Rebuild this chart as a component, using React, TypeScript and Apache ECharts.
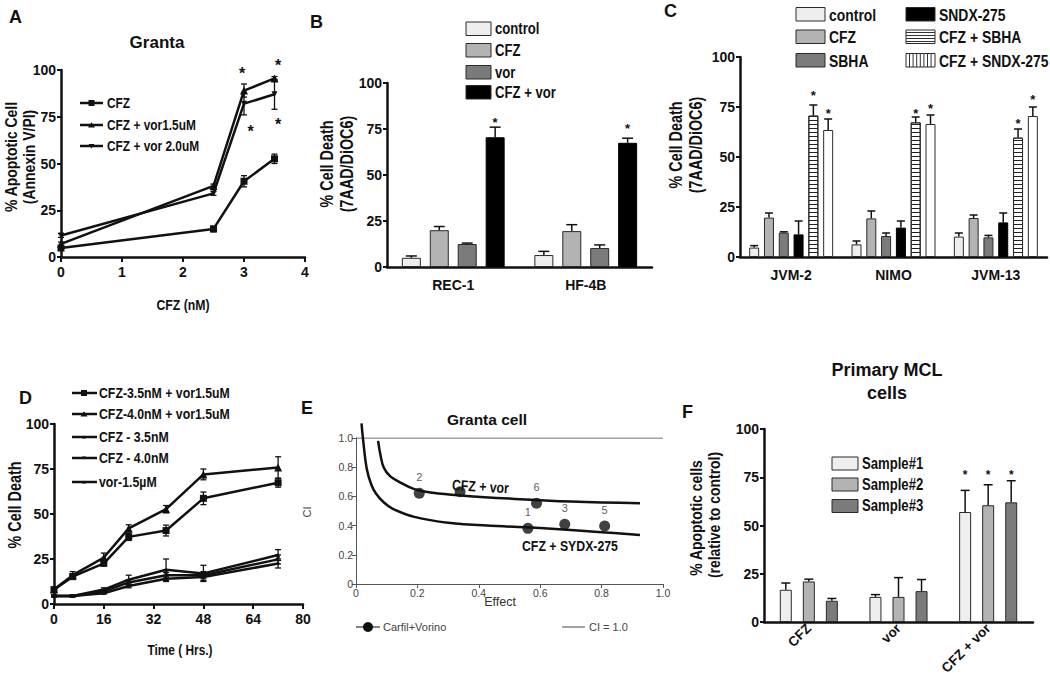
import React, { useEffect, useRef } from "react";
import * as echarts from "echarts";

const SANS = "'Liberation Sans', Arial, Helvetica, sans-serif";
const INK = "#111";
const NX = 0.82; // horizontal squeeze that mimics a narrow face

// ---------- Panel A ----------
const pctTicks = [0, 25, 50, 75, 100];
const aXTicks = [0, 1, 2, 3, 4];
const aDoses = [0, 2.5, 3, 3.5];
const aNames = ["CFZ", "CFZ + vor1.5uM", "CFZ + vor 2.0uM"];
const aCFZ = [4.8, 15, 40.5, 52.5];
const aCFZErr = [1, 1.5, 3, 2.5];
const aVor15 = [7, 38, 89, 95.5];
const aVor15Err = [1, 1, 3.5, 1];
const aVor20 = [11.5, 34, 82, 87];
const aVor20Err = [1, 1, 6, 8];
const aStarX = [2.97, 3.56, 3.11, 3.56];
const aStarY = [99, 103.5, 68, 72];

// ---------- Panel B ----------
const bCats = ["REC-1", "HF-4B"];
const bNames = ["control", "CFZ", "vor", "CFZ + vor"];
const bControl = [5, 6.5];
const bControlErr = [1, 2];
const bCFZ = [20, 19.5];
const bCFZErr = [2, 3.5];
const bVor = [12.5, 10.3];
const bVorErr = [0.5, 1.7];
const bCombo = [70.5, 67.5];
const bComboErr = [5.5, 2.5];
const bComboStar = [79.5, 76.5];

// ---------- Panel C ----------
const cCats = ["JVM-2", "NIMO", "JVM-13"];
const cNames = ["control", "CFZ", "SBHA", "SNDX-275", "CFZ + SBHA", "CFZ + SNDX-275"];
const cControl = [4.7, 6.3, 10.2];
const cControlErr = [1, 1.7, 1.8];
const cCFZ = [19.7, 19.3, 19.5];
const cCFZErr = [2.3, 3.7, 1.5];
const cSBHA = [12.2, 10.5, 9.8];
const cSBHAErr = [0.4, 1.5, 1];
const cSNDX = [11.3, 14.7, 17.3];
const cSNDXErr = [6.7, 3.3, 4.7];
const cCfzSbha = [70.7, 67.3, 59.7];
const cCfzSbhaErr = [5.3, 2.7, 4.3];
const cCfzSndx = [63.5, 66.5, 70.5];
const cCfzSndxErr = [5.5, 4.5, 4.5];
const cCfzSbhaStar = [82, 73, 68];
const cCfzSndxStar = [73, 75.5, 80];

// ---------- Panel D ----------
const dTimes = [0, 6, 16, 24, 36, 48, 72];
const dXTicks = [0, 16, 32, 48, 64, 80];
const dNames = ["CFZ-3.5nM + vor1.5uM", "CFZ-4.0nM + vor1.5uM", "CFZ - 3.5nM", "CFZ - 4.0nM", "vor-1.5\u00b5M"];
const dCfz35Vor = [8, 15.2, 22.6, 37.3, 40.8, 58.7, 67.4];
const dCfz35VorErr = [1, 1.5, 1.5, 2, 3, 3.5, 2.5];
const dCfz40Vor = [8, 16, 25.8, 42, 52.7, 72, 75.8];
const dCfz40VorErr = [1, 2, 2.5, 2, 2, 3, 6];
const dCfz35 = [4.5, 4.5, 8, 13.5, 19, 17, 27.2];
const dCfz35Err = [0.5, 0.5, 1, 2.5, 6, 4.5, 3];
const dCfz40 = [4.5, 4.5, 7, 12, 16, 16, 24.8];
const dCfz40Err = [0.5, 0.5, 1, 1.5, 1.5, 2, 2.5];
const dVor = [4.5, 4.5, 6, 10, 14, 15, 22.5];
const dVorErr = [0.5, 0.5, 0.5, 1, 1.5, 2, 2.5];

// ---------- Panel E ----------
const eTicks = [0, 0.2, 0.4, 0.6, 0.8, 1.0];
const eTickLabels = ["0", "0.2", "0.4", "0.6", "0.8", "1.0"];
const eVorEffect = [0.072, 0.08, 0.09, 0.11, 0.14, 0.19, 0.25, 0.35, 0.5, 0.7, 0.925];
const eVorCI = [0.98, 0.88, 0.8, 0.74, 0.7, 0.65, 0.625, 0.605, 0.585, 0.565, 0.553];
const eSndxEffect = [0.018, 0.023, 0.035, 0.05, 0.065, 0.09, 0.12, 0.19, 0.3, 0.46, 0.6, 0.8, 0.925];
const eSndxCI = [1.1, 0.99, 0.79, 0.68, 0.62, 0.56, 0.515, 0.46, 0.42, 0.397, 0.383, 0.355, 0.336];
const ePointEffect = [0.206, 0.339, 0.588, 0.56, 0.68, 0.81];
const ePointCI = [0.621, 0.632, 0.553, 0.381, 0.409, 0.397];
const ePointLabels = ["2", "", "6", "1", "3", "5"];
const eRefEffect = [0, 1];
const eRefCI = [1, 1];

// ---------- Panel F ----------
const fCats = ["CFZ", "vor", "CFZ + vor"];
const fNames = ["Sample#1", "Sample#2", "Sample#3"];
const fS1 = [16.7, 13, 57];
const fS1Err = [3.5, 1.2, 11.2];
const fS2 = [21, 13, 60.5];
const fS2Err = [1.2, 10, 10.6];
const fS3 = [11, 16, 62];
const fS3Err = [1.2, 6, 11.2];
const fStar = [-1, -1, 77];

// ---------- colours ----------
const LIGHT = "#eeeeee";
const MID = "#b3b3b3";
const DARK = "#7b7b7b";
const BLACK = "#000000";

const axisLineStyle = { color: INK, width: 2.5 };

function valY(grid: number, ticks: number[]) {
  return {
    type: "value", gridIndex: grid, min: ticks[0], max: ticks[ticks.length - 1], interval: ticks[1] - ticks[0],
    axisLine: { show: true, lineStyle: axisLineStyle },
    axisTick: { show: true, length: 4, lineStyle: { color: INK, width: 2 } },
    axisLabel: { color: INK, fontFamily: SANS, fontWeight: "bold", fontSize: 14, margin: 5 },
    splitLine: { show: false },
  };
}
function valX(grid: number, ticks: number[]) {
  return {
    type: "value", gridIndex: grid, min: ticks[0], max: ticks[ticks.length - 1], interval: ticks[1] - ticks[0],
    axisLine: { show: true, onZero: false, lineStyle: axisLineStyle },
    axisTick: { show: true, length: 5, lineStyle: { color: INK, width: 2 } },
    axisLabel: { color: INK, fontFamily: SANS, fontWeight: "bold", fontSize: 14, margin: 8 },
    splitLine: { show: false },
  };
}
function catX(grid: number, cats: string[], extra: any = {}) {
  return {
    type: "category", gridIndex: grid, data: cats,
    axisLine: { show: true, lineStyle: axisLineStyle },
    axisTick: { show: false },
    axisLabel: { color: INK, fontFamily: SANS, fontWeight: "bold", fontSize: 14, margin: 11, interval: 0, ...extra },
    splitLine: { show: false },
  };
}
function eAxis(grid: number) {
  return {
    type: "value", gridIndex: grid, min: eTicks[0], max: eTicks[eTicks.length - 1], interval: eTicks[1] - eTicks[0],
    axisLine: { show: true, onZero: false, lineStyle: { color: "#555", width: 1 } },
    axisTick: { show: true, length: 4, lineStyle: { color: "#555", width: 1 } },
    axisLabel: {
      color: "#444", fontFamily: SANS, fontSize: 10.5, margin: 3,
      formatter: (v: number) => eTickLabels[Math.round(v / (eTicks[1] - eTicks[0]))],
    },
    splitLine: { show: false },
  };
}

const ln = (x1: number, y1: number, x2: number, y2: number, w = 1.5, c = INK) => ({
  type: "line", shape: { x1, y1, x2, y2 }, style: { stroke: c, lineWidth: w },
});
const starText = (x: number, y: number, size = 13) => ({
  type: "text", x, y: y + 2,
  style: { text: "*", fill: INK, fontSize: size, fontWeight: "bold", fontFamily: SANS, align: "center", verticalAlign: "middle" },
});

function barSeries(axis: number, name: string, vals: number[], color: string, bw: number, gap: number, extra: any = {}) {
  return {
    type: "bar", name, xAxisIndex: axis, yAxisIndex: axis, data: vals, barWidth: bw, barGap: `${gap * 100}%`,
    itemStyle: { color, borderColor: "#2a2a2a", borderWidth: 1, ...extra }, z: 2,
  };
}
function barErr(axis: number, vals: number[], errs: number[], stars: number[] | null, i: number, n: number, bw: number, gap: number, cap: number, starSize = 13) {
  return {
    type: "custom", xAxisIndex: axis, yAxisIndex: axis, z: 4, silent: true,
    encode: { x: 0, y: 1 },
    data: vals.map((v, k) => [k, v, errs[k], stars ? stars[k] : -1]),
    renderItem: (_p: any, api: any) => {
      const k = api.value(0), v = api.value(1), e = api.value(2), s = api.value(3);
      const p0 = api.coord([k, v]);
      const p1 = api.coord([k, v + e]);
      const x = p0[0] + (i - (n - 1) / 2) * bw * (1 + gap);
      const kids: any[] = [ln(x, p0[1], x, p1[1]), ln(x - cap / 2, p1[1], x + cap / 2, p1[1])];
      if (s >= 0) {
        const ps = api.coord([k, s]);
        kids.push(starText(x, ps[1], starSize));
      }
      return { type: "group", children: kids };
    },
  };
}
function lineSeries(axis: number, name: string, xs: number[], ys: number[], symbol: string, size: number, rot = 0) {
  return {
    type: "line", name, xAxisIndex: axis, yAxisIndex: axis, data: xs.map((x, k) => [x, ys[k]]),
    symbol, symbolSize: size, symbolRotate: rot, showSymbol: true,
    lineStyle: { color: INK, width: 2.5 }, itemStyle: { color: INK }, z: 3,
  };
}
function lineErr(axis: number, xs: number[], ys: number[], errs: number[], cap = 6) {
  return {
    type: "custom", xAxisIndex: axis, yAxisIndex: axis, z: 4, silent: true,
    encode: { x: 0, y: 1 },
    data: xs.map((x, k) => [x, ys[k], errs[k]]),
    renderItem: (_p: any, api: any) => {
      const x = api.value(0), v = api.value(1), e = api.value(2);
      const hi = api.coord([x, v + e]);
      const lo = api.coord([x, v - e]);
      return {
        type: "group",
        children: [ln(hi[0], hi[1], lo[0], lo[1], 1.3), ln(hi[0] - cap / 2, hi[1], hi[0] + cap / 2, hi[1], 1.3), ln(lo[0] - cap / 2, lo[1], lo[0] + cap / 2, lo[1], 1.3)],
      };
    },
  };
}
function starSeries(axis: number, xs: number[], ys: number[], size: number) {
  return {
    type: "custom", xAxisIndex: axis, yAxisIndex: axis, z: 5, silent: true, clip: false,
    encode: { x: 0, y: 1 },
    data: xs.map((x, k) => [x, ys[k]]),
    renderItem: (_p: any, api: any) => {
      const p = api.coord([api.value(0), api.value(1)]);
      return starText(p[0], p[1], size);
    },
  };
}

// ---------- graphic helpers ----------
const txt = (text: string, x: number, y: number, size: number, o: any = {}) => ({
  type: "text", x, y, rotation: o.rot || 0, scaleX: o.sx ?? NX, silent: true, z: 10,
  style: {
    text, fill: o.color || INK, fontSize: size, fontWeight: o.weight || "bold", fontFamily: SANS,
    align: o.align || "left", verticalAlign: "middle",
  },
});
const box = (x: number, y: number, w: number, h: number, fill: string) => ({
  type: "rect", shape: { x, y, width: w, height: h }, style: { fill, stroke: "#2a2a2a", lineWidth: 1 }, z: 10,
});
const stripesH = (x: number, y: number, w: number, h: number) => {
  const out: any[] = [];
  for (let yy = y + 2.5; yy < y + h - 1; yy += 3) out.push({ ...ln(x, yy, x + w, yy, 1, "#333"), z: 11 });
  return out;
};
const stripesV = (x: number, y: number, w: number, h: number) => {
  const out: any[] = [];
  for (let xx = x + 3.5; xx < x + w - 1; xx += 3.6) out.push({ ...ln(xx, y, xx, y + h, 1, "#333"), z: 11 });
  return out;
};
const tri = (x: number, y: number, s: number, down = false) => ({
  type: "polygon", z: 11,
  shape: { points: down ? [[x - s, y - s * 0.7], [x + s, y - s * 0.7], [x, y + s * 0.8]] : [[x - s, y + s * 0.7], [x + s, y + s * 0.7], [x, y - s * 0.8]] },
  style: { fill: INK },
});
const sq = (x: number, y: number, s: number) => ({ type: "rect", z: 11, shape: { x: x - s / 2, y: y - s / 2, width: s, height: s }, style: { fill: INK } });

function buildGraphic() {
  const g: any[] = [];
  const R = Math.PI / 2;
  // panel letters
  g.push(txt("A", 9, 17, 18, { sx: 1 }));
  g.push(txt("B", 310, 22, 18, { sx: 1 }));
  g.push(txt("C", 664, 11, 18, { sx: 1 }));
  g.push(txt("D", 19, 398, 18, { sx: 1 }));
  g.push(txt("E", 301, 408, 18, { sx: 1 }));
  g.push(txt("F", 682, 412, 18, { sx: 1 }));
  // titles
  g.push(txt("Granta", 157, 42, 17, { sx: 1, align: "center" }));
  g.push(txt("Granta cell", 487, 419, 15.5, { sx: 1, align: "center" }));
  g.push(txt("Primary MCL", 887, 370, 18, { sx: 1, align: "center" }));
  g.push(txt("cells", 887, 393, 18, { sx: 1, align: "center" }));
  // axis titles
  g.push(txt("% Apoptotic Cell", 11, 157, 17, { rot: R, align: "center" }));
  g.push(txt("(Annexin V/PI)", 29, 157, 17, { rot: R, align: "center" }));
  g.push(txt("CFZ (nM)", 183, 305, 15, { align: "center" }));
  g.push(txt("% Cell Death", 327, 164, 17.5, { rot: R, align: "center" }));
  g.push(txt("(7AAD/DiOC6)", 347, 164, 17.5, { rot: R, align: "center" }));
  g.push(txt("% Cell Death", 676, 145, 17.5, { rot: R, align: "center" }));
  g.push(txt("(7AAD/DiOC6)", 696, 145, 17.5, { rot: R, align: "center" }));
  g.push(txt("% Cell Death", 15, 505, 17.5, { rot: R, align: "center" }));
  g.push(txt("Time ( Hrs.)", 180, 650, 14.5, { align: "center" }));
  g.push(txt("% Apoptotic cells", 696, 518, 17, { rot: R, align: "center" }));
  g.push(txt("(relative to control)", 714, 515, 17, { rot: R, align: "center" }));
  g.push(txt("CI", 307, 512, 11, { sx: 1, rot: R, align: "center", weight: "normal", color: "#444" }));
  g.push(txt("Effect", 500, 602, 12.5, { sx: 1, align: "center", weight: "normal", color: "#333" }));

  // legend A
  const aRows = [103, 125, 146];
  aNames.forEach((n, i) => {
    g.push({ ...ln(80, aRows[i], 103, aRows[i], 2.5), z: 10 });
    if (i === 0) g.push(sq(91.5, aRows[i], 6));
    else if (i === 1) g.push(tri(91.5, aRows[i], 3.5));
    else g.push(tri(91.5, aRows[i], 3, true));
    g.push(txt(n, 107, aRows[i], 14.5));
  });

  // legend B
  const bRows = [22, 43.5, 65.5, 85.5];
  const bFills = [LIGHT, MID, DARK, BLACK];
  bNames.forEach((n, i) => {
    g.push(box(466, bRows[i], 25, 13.5, bFills[i]));
    g.push(txt(n, 495, bRows[i] + 7, 16));
  });

  // legend C
  const cRows = [7.5, 30, 53.5];
  const cFills = [LIGHT, MID, DARK, BLACK, "#fff", "#fff"];
  cNames.forEach((n, i) => {
    const col = i < 3 ? 0 : 1;
    const r = cRows[i % 3];
    const bx = col === 0 ? 796 : 906;
    g.push(box(bx, r, 29, 13.5, cFills[i]));
    if (i === 4) g.push(...stripesH(bx, r, 29, 13.5));
    if (i === 5) g.push(...stripesV(bx, r, 29, 13.5));
    g.push(txt(n, bx + 33, r + 7, 17));
  });

  // legend D
  const dRows = [393, 414, 437, 458, 482];
  dNames.forEach((n, i) => {
    g.push({ ...ln(72, dRows[i], 97, dRows[i], 2.5), z: 10 });
    if (i === 0) g.push(sq(84, dRows[i], 6));
    else if (i === 1) g.push(tri(84, dRows[i], 3.5));
    else g.push(tri(84, dRows[i], 2, i === 3));
    g.push(txt(n, 99, dRows[i], 15));
  });

  // legend F
  const fRows = [457, 478, 499.5];
  const fFills = [LIGHT, MID, DARK];
  fNames.forEach((n, i) => {
    g.push(box(832, fRows[i], 26, 13, fFills[i]));
    g.push(txt(n, 862, fRows[i] + 6.5, 16));
  });

  // panel E annotations and legend
  g.push(txt("CFZ + vor", 452, 485, 15, { rot: -0.06 }));
  g.push(txt("CFZ + SYDX-275", 522, 546, 15));
  g.push({ ...ln(356, 627, 380, 627, 1.2, "#333"), z: 10 });
  g.push({ type: "circle", shape: { cx: 368, cy: 627, r: 5 }, style: { fill: INK }, z: 11 });
  g.push(txt("Carfil+Vorino", 383, 627, 11, { sx: 1, weight: "normal", color: "#444" }));
  g.push({ ...ln(562, 627, 585, 627, 1, "#444"), z: 10 });
  g.push(txt("CI = 1.0", 589, 627, 11, { sx: 1, weight: "normal", color: "#444" }));
  return g;
}

function buildOption() {
  const grids = [
    { left: 61, top: 70, width: 244, height: 187 },
    { left: 387, top: 83, width: 265, height: 184 },
    { left: 740, top: 57, width: 307, height: 200 },
    { left: 54, top: 424, width: 249, height: 180 },
    { left: 356, top: 438, width: 307, height: 146 },
    { left: 764, top: 429, width: 269, height: 193 },
  ].map((g) => ({ ...g, containLabel: false, outerBoundsMode: "none" }));

  const BW_B = 19, GAP_B = 0.47;
  const BW_C = 10, GAP_C = 0.48;
  const BW_F = 12, GAP_F = 0.92;
  const hStripe = { symbol: "rect", symbolSize: 1, dashArrayX: [1, 0], dashArrayY: [1, 2.2], color: "#222", rotation: 0 };

  const series: any[] = [
    // A
    lineSeries(0, aNames[0], aDoses, aCFZ, "rect", 7),
    lineSeries(0, aNames[1], aDoses, aVor15, "triangle", 8),
    lineSeries(0, aNames[2], aDoses, aVor20, "triangle", 6, 180),
    lineErr(0, aDoses, aCFZ, aCFZErr),
    lineErr(0, aDoses, aVor15, aVor15Err),
    lineErr(0, aDoses, aVor20, aVor20Err),
    starSeries(0, aStarX, aStarY, 16),
    // B
    barSeries(1, bNames[0], bControl, LIGHT, BW_B, GAP_B),
    barSeries(1, bNames[1], bCFZ, MID, BW_B, GAP_B),
    barSeries(1, bNames[2], bVor, DARK, BW_B, GAP_B),
    barSeries(1, bNames[3], bCombo, BLACK, BW_B, GAP_B, { borderColor: "#000" }),
    barErr(1, bControl, bControlErr, null, 0, 4, BW_B, GAP_B, 11),
    barErr(1, bCFZ, bCFZErr, null, 1, 4, BW_B, GAP_B, 11),
    barErr(1, bVor, bVorErr, null, 2, 4, BW_B, GAP_B, 11),
    barErr(1, bCombo, bComboErr, bComboStar, 3, 4, BW_B, GAP_B, 11),
    // C
    barSeries(2, cNames[0], cControl, LIGHT, BW_C, GAP_C),
    barSeries(2, cNames[1], cCFZ, MID, BW_C, GAP_C),
    barSeries(2, cNames[2], cSBHA, DARK, BW_C, GAP_C),
    barSeries(2, cNames[3], cSNDX, BLACK, BW_C, GAP_C, { borderColor: "#000" }),
    barSeries(2, cNames[4], cCfzSbha, "#ffffff", BW_C, GAP_C, { decal: hStripe }),
    barSeries(2, cNames[5], cCfzSndx, "#ffffff", BW_C, GAP_C),
    barErr(2, cControl, cControlErr, null, 0, 6, BW_C, GAP_C, 8),
    barErr(2, cCFZ, cCFZErr, null, 1, 6, BW_C, GAP_C, 8),
    barErr(2, cSBHA, cSBHAErr, null, 2, 6, BW_C, GAP_C, 8),
    barErr(2, cSNDX, cSNDXErr, null, 3, 6, BW_C, GAP_C, 8),
    barErr(2, cCfzSbha, cCfzSbhaErr, cCfzSbhaStar, 4, 6, BW_C, GAP_C, 8),
    barErr(2, cCfzSndx, cCfzSndxErr, cCfzSndxStar, 5, 6, BW_C, GAP_C, 8),
    // D
    lineSeries(3, dNames[0], dTimes, dCfz35Vor, "rect", 7),
    lineSeries(3, dNames[1], dTimes, dCfz40Vor, "triangle", 8),
    lineSeries(3, dNames[2], dTimes, dCfz35, "triangle", 4),
    lineSeries(3, dNames[3], dTimes, dCfz40, "triangle", 4, 180),
    lineSeries(3, dNames[4], dTimes, dVor, "diamond", 4),
    lineErr(3, dTimes, dCfz35Vor, dCfz35VorErr),
    lineErr(3, dTimes, dCfz40Vor, dCfz40VorErr),
    lineErr(3, dTimes, dCfz35, dCfz35Err),
    lineErr(3, dTimes, dCfz40, dCfz40Err),
    lineErr(3, dTimes, dVor, dVorErr),
    // E
    {
      type: "line", name: "CI = 1.0", xAxisIndex: 4, yAxisIndex: 4, data: eRefEffect.map((x, k) => [x, eRefCI[k]]),
      symbol: "none", lineStyle: { color: "#444", width: 1 }, z: 2,
    },
    {
      type: "line", name: "CFZ + vor", xAxisIndex: 4, yAxisIndex: 4, data: eVorEffect.map((x, k) => [x, eVorCI[k]]),
      symbol: "none", smooth: 0.4, clip: false, lineStyle: { color: INK, width: 2.5 }, z: 3,
    },
    {
      type: "line", name: "CFZ + SYDX-275", xAxisIndex: 4, yAxisIndex: 4, data: eSndxEffect.map((x, k) => [x, eSndxCI[k]]),
      symbol: "none", smooth: 0.4, clip: false, lineStyle: { color: INK, width: 2.5 }, z: 3,
    },
    {
      type: "scatter", name: "Carfil+Vorino", xAxisIndex: 4, yAxisIndex: 4,
      data: ePointEffect.map((x, k) => ({ value: [x, ePointCI[k]], label: { formatter: ePointLabels[k], color: "#333" } })),
      symbol: "circle", symbolSize: 11, itemStyle: { color: INK }, z: 4,
      label: { show: true, position: "top", offset: [-7, -1], color: "#333", fontSize: 11, fontFamily: SANS },
      labelLayout: { hideOverlap: false },
    },
    // F
    barSeries(5, fNames[0], fS1, LIGHT, BW_F, GAP_F),
    barSeries(5, fNames[1], fS2, MID, BW_F, GAP_F),
    barSeries(5, fNames[2], fS3, DARK, BW_F, GAP_F),
    barErr(5, fS1, fS1Err, fStar, 0, 3, BW_F, GAP_F, 9, 12),
    barErr(5, fS2, fS2Err, fStar, 1, 3, BW_F, GAP_F, 9, 12),
    barErr(5, fS3, fS3Err, fStar, 2, 3, BW_F, GAP_F, 9, 12),
  ];

  return {
    animation: false,
    backgroundColor: "#ffffff",
    grid: grids,
    xAxis: [
      valX(0, aXTicks),
      catX(1, bCats),
      catX(2, cCats),
      valX(3, dXTicks),
      eAxis(4),
      catX(5, fCats, { rotate: 45, margin: 4, fontSize: 13.5 }),
    ],
    yAxis: [
      valY(0, pctTicks),
      valY(1, pctTicks),
      valY(2, pctTicks),
      valY(3, pctTicks),
      eAxis(4),
      valY(5, pctTicks),
    ],
    series,
    graphic: buildGraphic(),
  };
}

export default function App() {
  const ref = useRef<HTMLDivElement>(null);
  useEffect(() => {
    if (!ref.current) return;
    const chart = echarts.init(ref.current, null, { renderer: "svg" });
    chart.setOption(buildOption() as any);
    return () => chart.dispose();
  }, []);
  return (
    <div
      ref={ref}
      style={{ position: "absolute", left: 0, top: 0, width: 1050, height: 680, background: "#fff" }}
    />
  );
}
